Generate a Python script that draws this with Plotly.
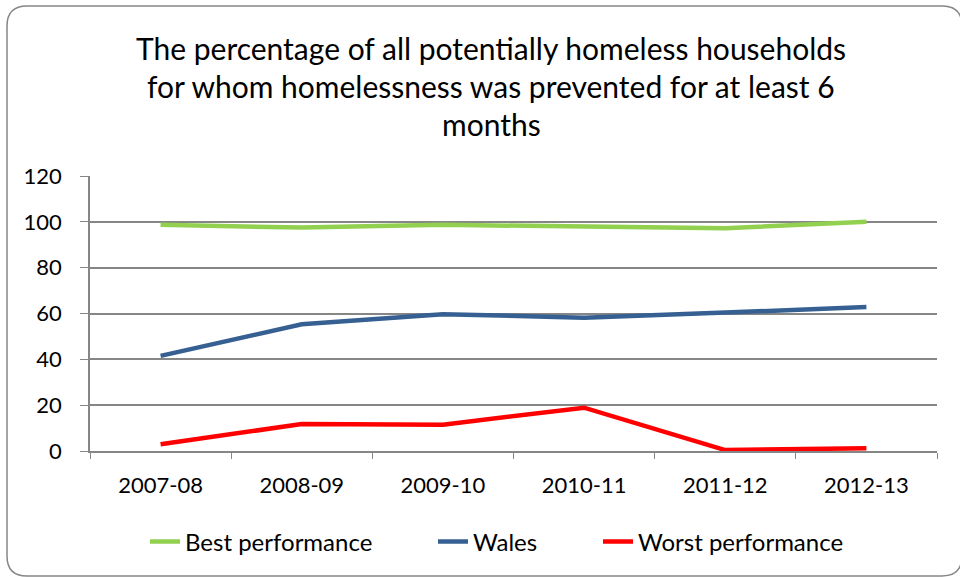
import plotly.graph_objects as go

categories = ["2007-08", "2008-09", "2009-10", "2010-11", "2011-12", "2012-13"]
best_performance = [98.7, 97.5, 98.7, 97.8, 97.2, 100.0]
wales = [41.5, 55.3, 59.7, 58.2, 60.4, 62.8]
worst_performance = [2.9, 11.8, 11.5, 18.9, 0.4, 1.2]
y_ticks = [0, 20, 40, 60, 80, 100, 120]
title_lines = [
    "The percentage of all potentially homeless households",
    "for whom homelessness was prevented for at least 6",
    "months",
]

FONT = "Lato"
W, H = 960, 577
PL, PR, PT, PB = 90, 937, 176, 451
pw, ph = PR - PL, PB - PT


def px(x):
    return (x - PL) / pw


def py(y):
    return (PB - y) / ph


fig = go.Figure()
fig.add_trace(go.Scatter(x=categories, y=best_performance, mode="lines", name="Best performance",
                         line=dict(color="#92D050", width=4.5), legend="legend"))
fig.add_trace(go.Scatter(x=categories, y=wales, mode="lines", name="Wales",
                         line=dict(color="#376092", width=4.5), legend="legend2"))
fig.add_trace(go.Scatter(x=categories, y=worst_performance, mode="lines", name="Worst performance",
                         line=dict(color="#FF0000", width=4.5), legend="legend3"))

annotations = []
for t, yc in zip(title_lines, [48, 86, 124]):
    annotations.append(dict(text=t, xref="paper", yref="paper", x=px(491), xanchor="center",
                            y=py(yc), yanchor="middle", showarrow=False,
                            font=dict(family=FONT, size=30, color="#000000")))

# rounded border
L, R, T, B = px(7), px(962), py(6), py(576)
rx, ry = 20 / pw, 20 / ph
path = (f"M {L+rx},{T} L {R-rx},{T} Q {R},{T} {R},{T-ry} L {R},{B+ry} Q {R},{B} {R-rx},{B} "
        f"L {L+rx},{B} Q {L},{B} {L},{B+ry} L {L},{T-ry} Q {L},{T} {L+rx},{T} Z")


def leg(text_x):
    return dict(orientation="h", x=px(text_x - 42), xanchor="left", y=py(542), yanchor="middle",
                font=dict(family=FONT, size=24, color="#000000"), bgcolor="rgba(0,0,0,0)")


fig.update_layout(
    width=W, height=H,
    margin=dict(l=PL, r=W - PR, t=PT, b=H - PB),
    paper_bgcolor="white", plot_bgcolor="white",
    font=dict(family=FONT, size=22, color="#000000"),
    showlegend=True,
    legend=leg(187), legend2=leg(475), legend3=leg(640),
    annotations=annotations,
    shapes=[dict(type="path", xref="paper", yref="paper", path=path,
                 line=dict(color="#868686", width=1.5), fillcolor="rgba(0,0,0,0)", layer="below")],
)
fig.update_xaxes(type="category", range=[-0.5, 5.5], showgrid=False, showline=True,
                 linecolor="#868686", linewidth=1.5, ticks="outside", ticklen=6,
                 tickcolor="#868686", tickson="boundaries", ticklabelstandoff=14)
fig.update_yaxes(range=[0, 120], tickvals=y_ticks, showgrid=True, gridcolor="#868686",
                 gridwidth=1.5, showline=True, linecolor="#868686", linewidth=1.5,
                 ticks="outside", ticklen=8, tickcolor="#868686", zeroline=False,
                 ticklabelstandoff=14)
fig.write_html("out.html", config={"displayModeBar": False},
               post_script="document.body.style.margin='0';")
